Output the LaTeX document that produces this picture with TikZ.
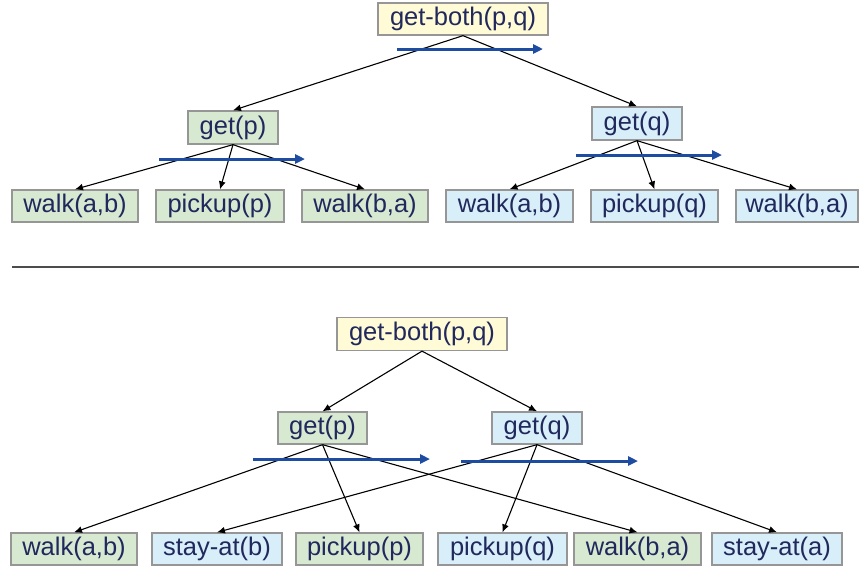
\documentclass[tikz,border=0pt]{standalone}
\usepackage{fontspec}
\setmainfont{Liberation Sans}
\usetikzlibrary{arrows.meta}
\definecolor{txt}{RGB}{32,40,92}
\definecolor{yfill}{RGB}{255,251,214}
\definecolor{gfill}{RGB}{216,233,210}
\definecolor{bfill}{RGB}{216,238,249}
\definecolor{bord}{RGB}{150,150,150}
\definecolor{flow}{RGB}{30,76,160}
\tikzset{
  box/.style={draw=bord, line width=1.3pt, inner sep=0pt, text=txt,
    font=\fontsize{25.5}{30}\selectfont, minimum height=32pt, anchor=center},
  ybox/.style={box, fill=yfill},
  gbox/.style={box, fill=gfill},
  bbox/.style={box, fill=bfill},
  edge/.style={draw=black, line width=1.1pt, -{Latex[length=8pt,width=7pt]}},
  order/.style={draw=flow, line width=3pt, -{Triangle[length=10pt,width=9pt]}},
  sepline/.style={draw=black!70, line width=2pt}
}
\begin{document}
\begin{tikzpicture}[x=1pt,y=-1pt]
\useasboundingbox (0,0) rectangle (859,568);
% ---------- top tree ----------
\node[ybox, minimum width=170pt] (gb1) at (463,19) {get-both(p,q)};
\node[gbox, minimum width=90pt, minimum height=33pt] (gp1) at (233,127.5) {get(p)};
\node[bbox, minimum width=90pt, minimum height=33pt] (gq1) at (637,123.5) {get(q)};
\node[gbox, minimum width=126pt] (wab1) at (75,206) {walk(a,b)};
\node[gbox, minimum width=128pt] (pp1) at (220,206) {pickup(p)};
\node[gbox, minimum width=126pt] (wba1) at (365,206) {walk(b,a)};
\node[bbox, minimum width=127pt] (wab2) at (509.5,206) {walk(a,b)};
\node[bbox, minimum width=127pt] (pq1) at (654.5,206) {pickup(q)};
\node[bbox, minimum width=122pt] (wba2) at (797,206) {walk(b,a)};
\draw[edge] (gb1.south) -- (gp1.north);
\draw[edge] (gb1.south) -- (gq1.north);
\draw[edge] (gp1.south) -- (wab1.north);
\draw[edge] (gp1.south) -- (pp1.north);
\draw[edge] (gp1.south) -- (wba1.north);
\draw[edge] (gq1.south) -- (wab2.north);
\draw[edge] (gq1.south) -- (pq1.north);
\draw[edge] (gq1.south) -- (wba2.north);
\coordinate (o1s) at (397,49); \coordinate (o1e) at (543,49);
\coordinate (o2s) at (159,159); \coordinate (o2e) at (305,159);
\coordinate (o3s) at (576,155); \coordinate (o3e) at (722,155);
\draw[order] (o1s) -- (o1e);
\draw[order] (o2s) -- (o2e);
\draw[order] (o3s) -- (o3e);
% ---------- separator ----------
\coordinate (sl) at (12,267); \coordinate (sr) at (859,267);
\draw[sepline] (sl) -- (sr);
% ---------- bottom tree ----------
\node[ybox, minimum width=170pt, minimum height=33pt] (gb2) at (422,334) {get-both(p,q)};
\node[gbox, minimum width=89pt] (gp2) at (322.5,428) {get(p)};
\node[bbox, minimum width=90pt] (gq2) at (537,428) {get(q)};
\node[gbox, minimum width=126pt] (wab3) at (74,549) {walk(a,b)};
\node[bbox, minimum width=130pt] (sab) at (217,549) {stay-at(b)};
\node[gbox, minimum width=127pt] (pp2) at (359.5,549) {pickup(p)};
\node[bbox, minimum width=129pt] (pq2) at (502.5,549) {pickup(q)};
\node[gbox, minimum width=127pt] (wba3) at (637.5,549) {walk(b,a)};
\node[bbox, minimum width=130pt] (saa) at (777,549) {stay-at(a)};
\draw[edge] (gb2.south) -- (gp2.north);
\draw[edge] (gb2.south) -- (gq2.north);
\draw[edge] (gp2.south) -- (wab3.north);
\draw[edge] (gp2.south) -- (pp2.north);
\draw[edge] (gp2.south) -- (wba3.north);
\draw[edge] (gq2.south) -- (sab.north);
\draw[edge] (gq2.south) -- (pq2.north);
\draw[edge] (gq2.south) -- (saa.north);
\coordinate (o4s) at (253,459); \coordinate (o4e) at (430,459);
\coordinate (o5s) at (461,461); \coordinate (o5e) at (638,461);
\draw[order] (o4s) -- (o4e);
\draw[order] (o5s) -- (o5e);
\end{tikzpicture}
\end{document}
